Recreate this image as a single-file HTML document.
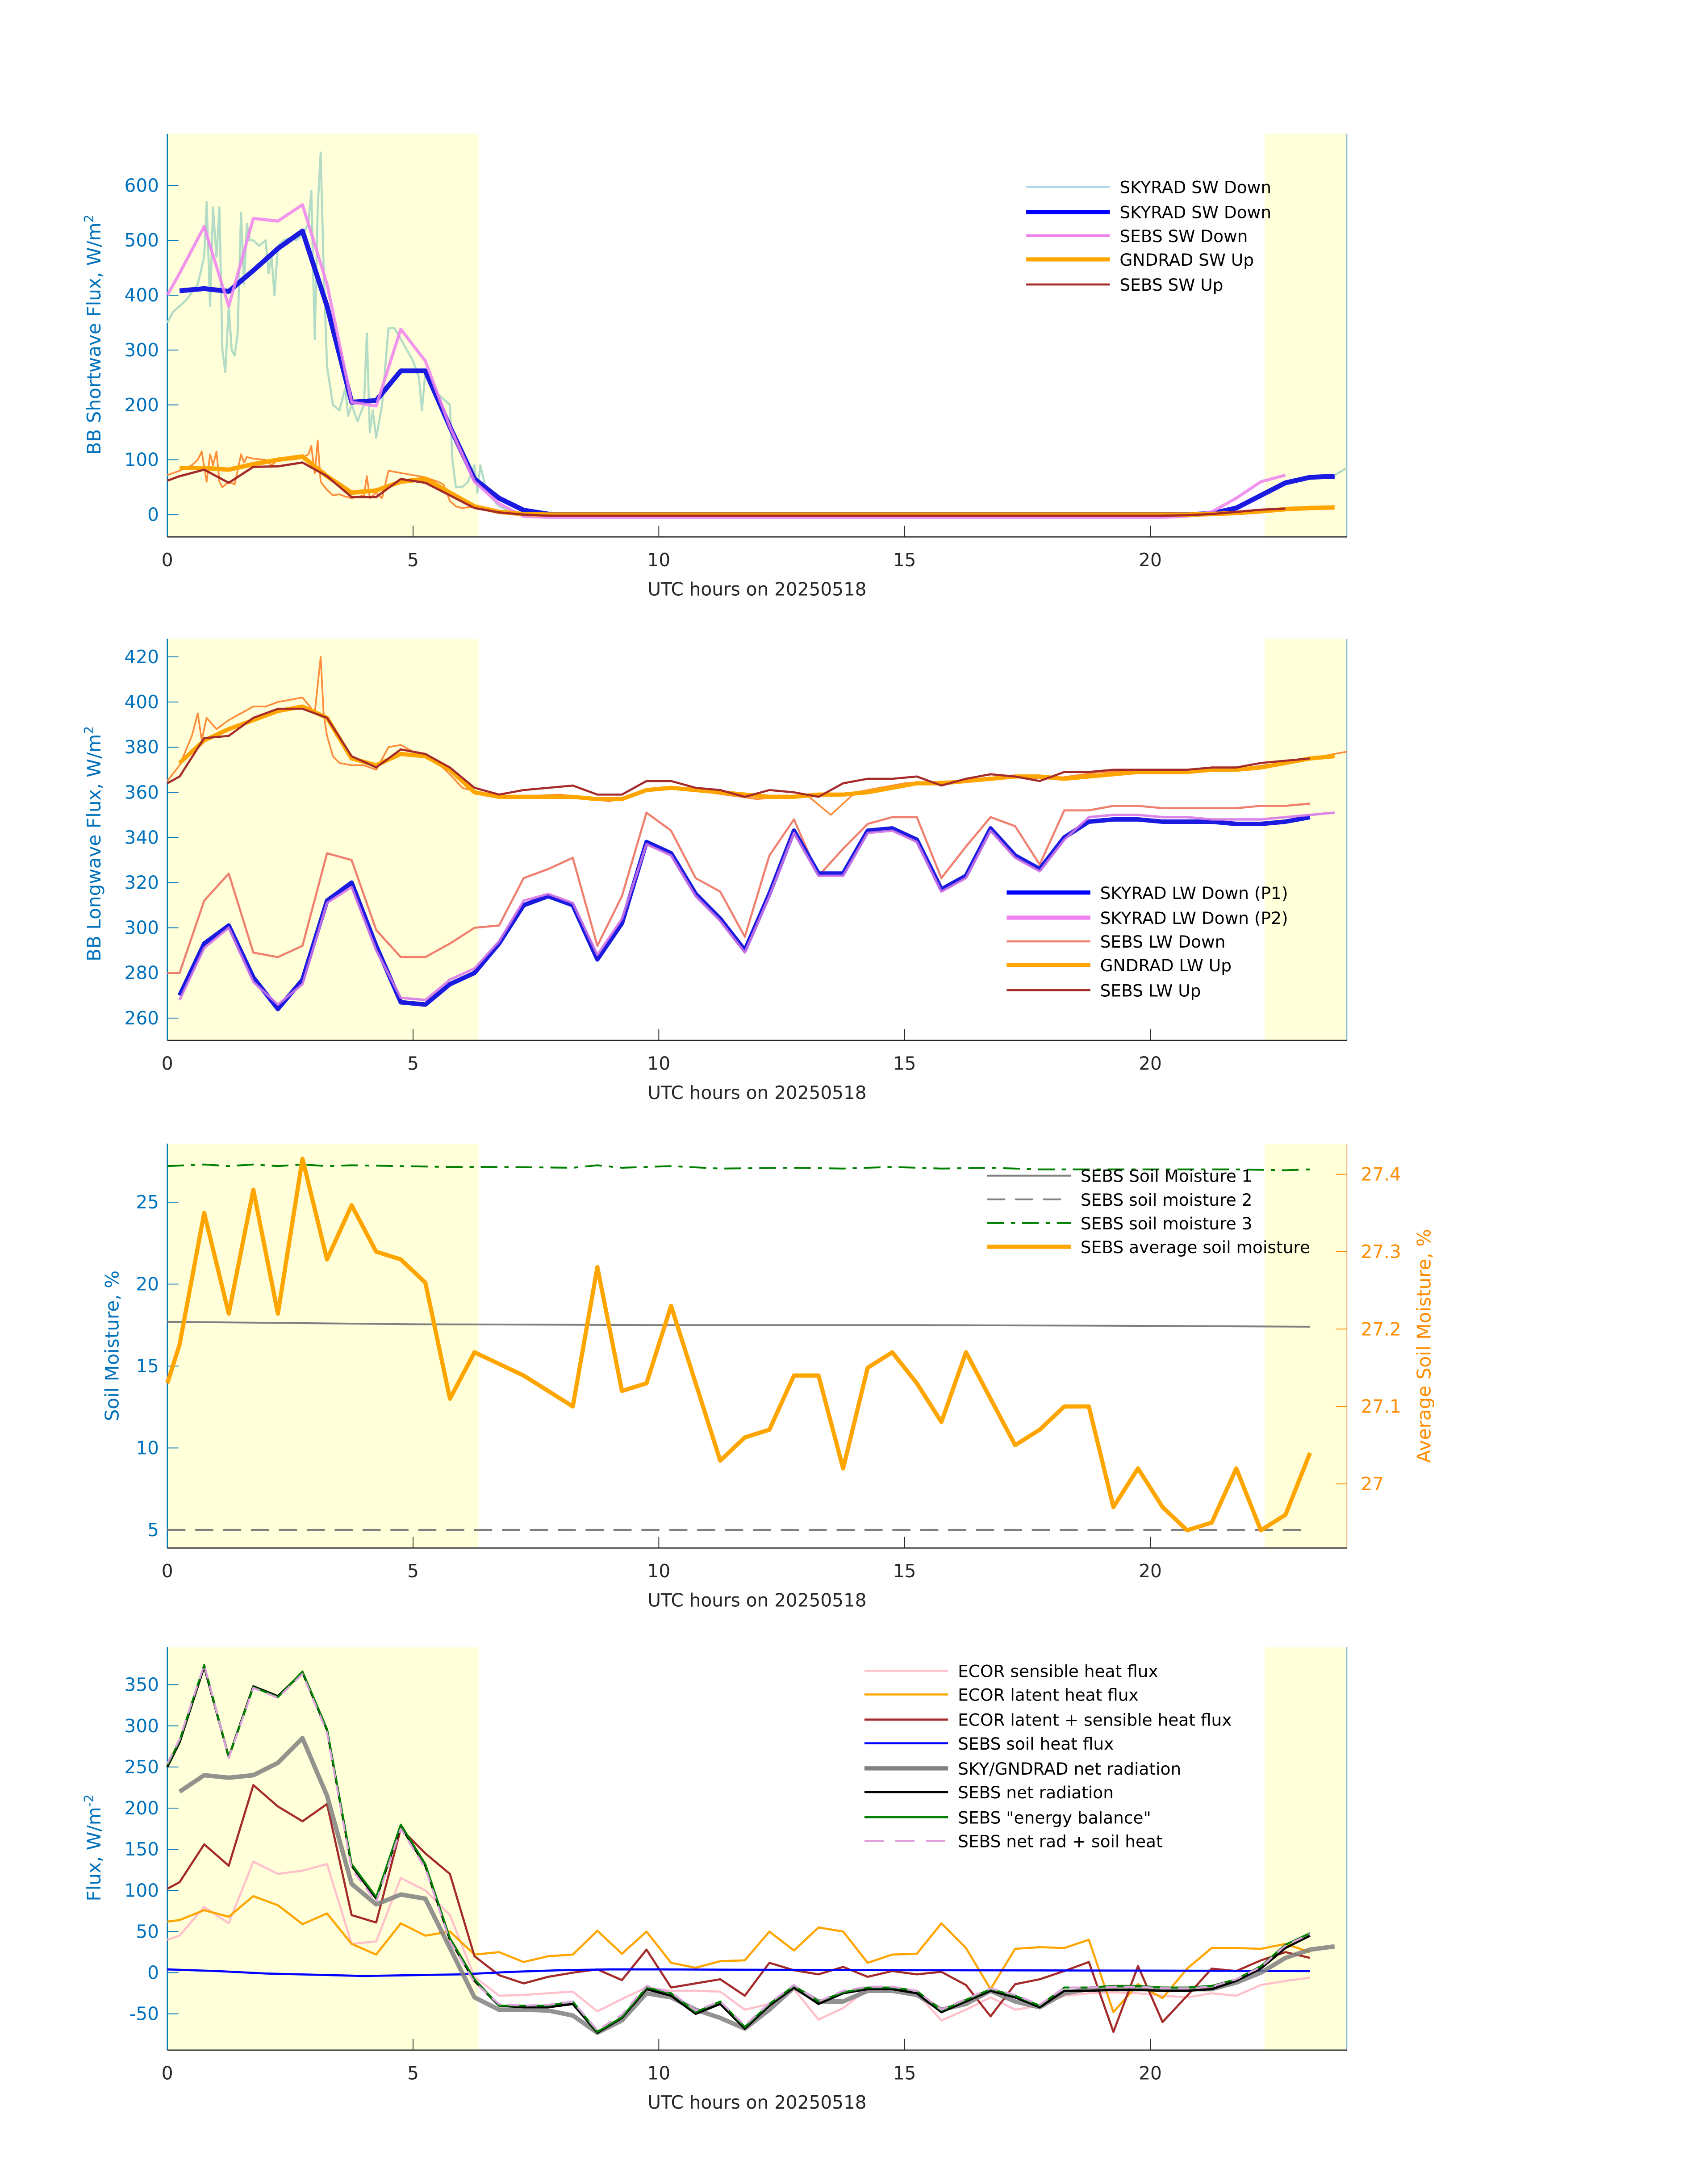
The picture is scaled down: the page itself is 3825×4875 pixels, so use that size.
<!DOCTYPE html>
<html><head><meta charset="utf-8"><style>
html,body{margin:0;padding:0;background:#fff}
svg{display:block}
text{font-family:"DejaVu Sans","Liberation Sans",sans-serif}
</style></head><body>
<svg id="chart" width="3825" height="4875" viewBox="0 0 1225 1561" preserveAspectRatio="none" xmlns="http://www.w3.org/2000/svg"></svg>
<script>
// ---------- shared category arrays (hours) ----------
const hrs48=[0.25,0.75,1.25,1.75,2.25,2.75,3.25,3.75,4.25,4.75,5.25,5.75,6.25,6.75,7.25,7.75,8.25,8.75,9.25,9.75,10.25,10.75,11.25,11.75,12.25,12.75,13.25,13.75,14.25,14.75,15.25,15.75,16.25,16.75,17.25,17.75,18.25,18.75,19.25,19.75,20.25,20.75,21.25,21.75,22.25,22.75,23.25,23.75];
const hrs0=[0,0.25,0.75,1.25,1.75,2.25,2.75,3.25,3.75,4.25,4.75,5.25,5.75,6.25,6.75,7.25,7.75,8.25,8.75,9.25,9.75,10.25,10.75,11.25,11.75,12.25,12.75,13.25,13.75,14.25,14.75,15.25,15.75,16.25,16.75,17.25,17.75,18.25,18.75,19.25,19.75,20.25,20.75,21.25,21.75,22.25,22.75,23.25];
const xTicks=[0,5,10,15,20];
// ---------- panel 1: shortwave ----------
const swRawHrs=[0,0.12,0.25,0.37,0.5,0.62,0.75,0.8,0.87,0.93,1.0,1.06,1.12,1.18,1.25,1.31,1.37,1.43,1.5,1.56,1.62,1.68,1.75,1.87,2.0,2.06,2.12,2.18,2.25,2.37,2.5,2.62,2.75,2.87,2.93,3.0,3.06,3.12,3.18,3.25,3.37,3.5,3.62,3.68,3.75,3.87,4.0,4.06,4.12,4.18,4.25,4.37,4.5,4.62,4.75,5.0,5.12,5.18,5.25,5.5,5.75,5.8,5.87,6.0,6.12,6.25,6.31,6.37,6.5,6.75,7,7.5];
const swRawDown=[350,370,380,390,405,420,470,570,380,560,470,560,300,260,380,300,290,330,550,420,530,500,500,490,500,440,470,400,490,500,505,500,510,530,590,320,560,660,450,270,200,190,230,180,200,170,200,330,150,190,140,200,340,340,320,280,250,190,260,220,200,100,50,50,60,90,40,90,40,15,5,0];
const swTailHrs=[22.25,22.75,23.25,23.75,24];
const swTailDown=[35,60,70,72,85];
const swRawUpHrs=[0,0.25,0.5,0.62,0.7,0.8,0.87,0.93,1.0,1.06,1.12,1.25,1.37,1.5,1.56,1.62,1.75,2.0,2.12,2.25,2.5,2.75,2.87,2.93,3.0,3.06,3.12,3.25,3.37,3.5,3.62,3.75,4.0,4.06,4.12,4.25,4.37,4.5,4.62,4.75,5.0,5.25,5.5,5.62,5.75,5.87,6.0,6.25,6.5,6.75,7];
const swRawUp=[72,80,90,100,115,60,110,90,115,60,50,60,55,110,95,105,102,100,90,100,100,103,110,125,75,135,60,45,35,37,33,30,35,70,30,40,30,80,78,76,72,68,60,55,25,15,12,15,8,4,1];
const skySWDown=[408,412,407,445,485,517,380,205,208,262,262,160,65,30,8,1,0,0,0,0,0,0,0,0,0,0,0,0,0,0,0,0,0,0,0,0,0,0,0,0,0,0,2,12,35,58,68,70];
const sebsSWDown=[400,440,525,380,540,535,565,420,205,198,338,280,160,60,20,-3,-5,-5,-5,-5,-5,-5,-5,-5,-5,-5,-5,-5,-5,-5,-5,-5,-5,-5,-5,-5,-5,-5,-5,-5,-5,-5,-3,5,30,60,72];
const gndSWUp=[85,85,82,92,100,106,70,40,44,60,65,40,15,5,1,0,0,0,0,0,0,0,0,0,0,0,0,0,0,0,0,0,0,0,0,0,0,0,0,0,0,0,1,3,6,10,12,13];
const sebsSWUp=[62,70,82,58,87,88,95,70,32,32,65,58,35,12,4,0,-2,-2,-2,-2,-2,-2,-2,-2,-2,-2,-2,-2,-2,-2,-2,-2,-2,-2,-2,-2,-2,-2,-2,-2,-2,-2,-1,1,5,9,11];
const swTicks=[0,100,200,300,400,500,600];
// ---------- panel 2: longwave ----------
const skyLWP1=[270,293,301,278,264,277,312,320,292,267,266,275,280,293,310,314,310,286,302,338,333,315,304,290,315,343,324,324,343,344,339,317,323,344,332,326,340,347,348,348,347,347,347,346,346,347,349];
const skyLWP2=[268,291,300,276,266,275,311,318,290,269,268,277,282,294,312,315,311,288,304,337,332,314,303,289,314,342,323,323,342,343,338,316,322,343,331,325,339,349,350,350,349,349,348,348,348,349,350,351];
const sebsLWDown=[280,280,312,324,289,287,292,333,330,299,287,287,293,300,301,322,326,331,292,314,351,343,322,316,296,332,348,323,335,346,349,349,322,336,349,345,328,352,352,354,354,353,353,353,353,354,354,355];
const gndLWUp=[373,383,388,392,396,398,393,375,372,377,376,370,360,358,358,358,358,357,357,361,362,361,360,359,358,358,359,359,360,362,364,364,365,366,367,367,366,367,368,369,369,369,370,370,371,373,375,376];
const sebsLWUp=[364,367,384,385,393,397,397,393,376,371,379,377,371,362,359,361,362,363,359,359,365,365,362,361,358,361,360,358,364,366,366,367,363,366,368,367,365,369,369,370,370,370,370,371,371,373,374,375];
const lwRawHrs=[0,0.25,0.5,0.62,0.7,0.8,1.0,1.25,1.5,1.75,2.0,2.25,2.5,2.75,2.9,3.0,3.12,3.18,3.25,3.37,3.5,3.75,4.0,4.25,4.5,4.75,5.0,5.25,5.5,5.75,6.0,6.5,7,8,9,10,11,12,13,13.5,14,15,16,17,18,19,20,21,22,23,24];
const lwRawUp=[365,372,385,395,383,393,388,392,395,398,398,400,401,402,398,395,420,395,385,376,373,372,372,370,380,381,378,377,373,368,362,359,358,359,356,362,360,357,359,350,360,364,365,367,366,369,369,370,371,374,378];
const lwTicks=[260,280,300,320,340,360,380,400,420];
// ---------- panel 3: soil moisture ----------
const sm1Hrs=[0,5,10,15,20,23.25];
const sm1=[17.7,17.55,17.5,17.5,17.45,17.4];
const sm2Hrs=[0,23.25];
const sm2=[5,5];
const sm3Hrs=[0,0.75,1.25,1.75,2.25,2.75,3.25,3.75,4.75,5.75,6.75,8.25,8.75,9.25,10.25,11.25,12.75,13.75,14.75,15.75,16.75,17.75,18.75,19.75,20.75,21.75,22.75,23.25];
const sm3=[27.2,27.3,27.2,27.3,27.2,27.3,27.2,27.25,27.2,27.15,27.15,27.1,27.25,27.1,27.2,27.05,27.1,27.05,27.15,27.05,27.1,27.0,27.0,27.0,27.0,27.0,26.95,27.0];
const smAvg=[27.13,27.18,27.35,27.22,27.38,27.22,27.42,27.29,27.36,27.30,27.29,27.26,27.11,27.17,27.155,27.14,27.12,27.10,27.28,27.12,27.13,27.23,27.13,27.03,27.06,27.07,27.14,27.14,27.02,27.15,27.17,27.13,27.08,27.17,27.11,27.05,27.07,27.10,27.10,26.97,27.02,26.97,26.94,26.95,27.02,26.94,26.96,27.04];
const smTicks=[5,10,15,20,25];
const smRightTicks=[27,27.1,27.2,27.3,27.4];
const smRightLabels=["27","27.1","27.2","27.3","27.4"];
// ---------- panel 4: energy fluxes ----------
const ecorSens=[40,45,80,60,135,120,124,132,35,38,115,100,70,-5,-28,-27,-25,-23,-47,-32,-18,-22,-22,-23,-45,-38,-20,-57,-43,-20,-20,-25,-58,-45,-30,-45,-40,-28,-25,-24,-25,-28,-30,-25,-28,-15,-10,-6];
const ecorLat=[62,64,76,68,93,82,59,72,35,22,60,45,50,22,25,13,20,22,51,23,50,12,6,14,15,50,27,55,50,12,22,23,60,30,-20,29,31,30,40,-48,-14,-31,5,30,30,29,35,25];
const ecorSum=[102,110,156,130,228,202,184,205,70,61,175,145,120,20,-3,-13,-5,0,4,-9,28,-18,-13,-8,-28,12,3,-2,7,-5,2,-2,1,-15,-53,-14,-8,2,13,-72,8,-60,-28,5,2,15,25,18];
const soilHrs=[0,1,2,3,4,5,6,7,8,9,10,12,16,20,23.25];
const soilHeat=[4,2,-1,-2.5,-4,-3,-2,1,3,4,4,3.5,3,2.5,2];
const skyNet=[220,240,237,240,255,285,215,108,83,95,90,30,-30,-45,-45,-46,-52,-73,-58,-25,-30,-45,-55,-68,-45,-18,-35,-35,-22,-22,-27,-45,-38,-22,-35,-42,-25,-20,-20,-20,-20,-20,-20,-12,0,18,28,32];
const sebsNet=[250,280,372,262,348,336,365,295,130,90,178,130,40,-10,-40,-42,-42,-38,-73,-55,-20,-28,-50,-38,-68,-40,-18,-38,-25,-20,-20,-25,-48,-35,-22,-30,-42,-22,-22,-21,-21,-22,-22,-20,-10,5,30,45];
const sebsEB=[252,282,374,262,347,335,366,296,132,92,180,132,42,-8,-40,-40,-40,-35,-72,-54,-18,-25,-48,-35,-66,-38,-16,-35,-24,-18,-18,-22,-46,-33,-20,-28,-40,-18,-18,-16,-16,-18,-18,-16,-8,8,34,48];
const sebsNetSoil=[254,284,374,261,346,334,363,292,126,86,175,127,38,-12,-38,-40,-39,-35,-70,-51,-16,-24,-46,-35,-64,-37,-15,-35,-22,-17,-17,-22,-45,-32,-19,-27,-39,-18,-18,-17,-17,-19,-19,-17,-8,7,33,47];
const fxTicks=[-50,0,50,100,150,200,250,300,350];

// ---------- helpers ----------
const svg=document.getElementById('chart');
const NS='http://www.w3.org/2000/svg';
function mk(tag,attrs,parent){const e=document.createElementNS(NS,tag);for(const k in attrs)e.setAttribute(k,attrs[k]);(parent||svg).appendChild(e);return e;}
const X0=120,X1=966;
function xs(h){return X0+h*(X1-X0)/24;}
function lin(v0,p0,v1,p1){return v=>p0+(v-v0)*(p1-p0)/(v1-v0);}
function line(hrs,vals,ys,style,name){
  const n=Math.min(hrs.length,vals.length);let d='';
  for(let i=0;i<n;i++)d+=(i?'L':'M')+xs(hrs[i]).toFixed(2)+','+ys(vals[i]).toFixed(2);
  const p=mk('path',Object.assign({d:d,fill:'none','stroke-linejoin':'round'},style));
  
  
  return p;
}
function panel(top,bot,ys,ticks,labels,ylabel,name,rightAxis){
  const g=mk('g',{});
  
  
  const r1=mk('rect',{x:X0,y:top,width:xs(6.33)-X0,height:bot-top,fill:'#ffffd9'},g);
  
  
  const r2=mk('rect',{x:xs(22.33),y:top,width:X1-xs(22.33),height:bot-top,fill:'#ffffd9'},g);
  
  
  mk('line',{x1:X0,y1:top,x2:X0,y2:bot,stroke:'#0072bd','stroke-width':0.8},g);
  mk('line',{x1:X1,y1:top,x2:X1,y2:bot,stroke:rightAxis?'#d95319':'#0072bd','stroke-width':0.6,'stroke-opacity':rightAxis?0.5:0.7},g);
  mk('line',{x1:X0,y1:bot,x2:X1,y2:bot,stroke:'#262626','stroke-width':0.8},g);
  ticks.forEach((v,i)=>{const y=ys(v);
    mk('line',{x1:X0,y1:y,x2:X0+8,y2:y,stroke:'#0072bd','stroke-width':0.6},g);
    const t=mk('text',{x:X0-6,y:y+4.5,'text-anchor':'end','font-size':13,fill:'#0072bd'},g);
    t.textContent=labels?labels[i]:String(v);
    
    
  });
  xTicks.forEach(h=>{const x=xs(h);
    if(h>0)mk('line',{x1:x,y1:bot,x2:x,y2:bot-8,stroke:'#262626','stroke-width':0.6},g);
    const t=mk('text',{x:x,y:bot+21,'text-anchor':'middle','font-size':13,fill:'#262626'},g);
    t.textContent=String(h);
    
    
  });
  const xl=mk('text',{x:543,y:bot+42,'text-anchor':'middle','font-size':13,fill:'#262626'},g);
  xl.textContent='UTC hours on 20250518';
  
  
  return g;
}
function ylab(x,y,html,color,name){
  const t=mk('text',{x:0,y:0,transform:'translate('+x+','+y+') rotate(-90)','text-anchor':'middle','font-size':13.5,fill:color});
  t.innerHTML=html;
  
  
}
function legend(x,rows,entries){
  entries.forEach((e,i)=>{
    const y=rows[i];
    const st=Object.assign({x1:x,y1:y,x2:x+60,y2:y},e.s);
    const l=mk('line',st);
    
    
    const t=mk('text',{x:x+67,y:y+4.5,'font-size':12,fill:'#000'});
    t.textContent=e.t;
    
    
  });
}

// ---------- panel 1 ----------
const y1=lin(0,369,600,133);
panel(96,385,y1,swTicks,null,'','shortwave-panel');
ylab(72,240,'BB Shortwave Flux, W/m<tspan dy="-5" font-size="9">2</tspan>','#0072bd','shortwave-y-axis-title');
line(swRawHrs,swRawDown,y1,{stroke:'#b2dcc6','stroke-width':1.5},'skyrad-sw-down-raw');
line(swTailHrs,swTailDown,y1,{stroke:'#b2dcc6','stroke-width':1.5},'skyrad-sw-down-raw-tail');
line(swRawUpHrs,swRawUp,y1,{stroke:'#ff8c3a','stroke-width':1.2},'gndrad-sw-up-raw');
line(hrs48,skySWDown,y1,{stroke:'#1a1ae0','stroke-width':3.5},'skyrad-sw-down');
line(hrs0,sebsSWDown,y1,{stroke:'#ee82ee','stroke-width':2.2,'stroke-opacity':0.85},'sebs-sw-down');
line(hrs48,gndSWUp,y1,{stroke:'#ffa500','stroke-width':3.2},'gndrad-sw-up');
line(hrs0,sebsSWUp,y1,{stroke:'#a52a2a','stroke-width':1.6},'sebs-sw-up');
legend(736,[134,152,169,186,204],[
 {t:'SKYRAD SW Down',s:{stroke:'#add8e6','stroke-width':1.5}},
 {t:'SKYRAD SW Down',s:{stroke:'#0000ff','stroke-width':3}},
 {t:'SEBS SW Down',s:{stroke:'#ee82ee','stroke-width':2}},
 {t:'GNDRAD SW Up',s:{stroke:'#ffa500','stroke-width':3}},
 {t:'SEBS SW Up',s:{stroke:'#a52a2a','stroke-width':1.5}}]);

// ---------- panel 2 ----------
const y2=lin(260,730,420,471);
panel(458,746,y2,lwTicks,null,'','longwave-panel');
ylab(72,605,'BB Longwave Flux, W/m<tspan dy="-5" font-size="9">2</tspan>','#0072bd','longwave-y-axis-title');
line(hrs0,sebsLWDown,y2,{stroke:'#f08070','stroke-width':1.5},'sebs-lw-down');
line(lwRawHrs,lwRawUp,y2,{stroke:'#ff8c3a','stroke-width':1.2},'gndrad-lw-up-raw');
line(hrs48,gndLWUp,y2,{stroke:'#ffa500','stroke-width':3},'gndrad-lw-up');
line(hrs0,sebsLWUp,y2,{stroke:'#a52a2a','stroke-width':1.5},'sebs-lw-up');
line(hrs48,skyLWP2,y2,{stroke:'#c8a0e0','stroke-width':1.5},'skyrad-lw-down-p2-raw');
line(hrs48,skyLWP1,y2,{stroke:'#1a1ae0','stroke-width':3.2},'skyrad-lw-down-p1');
line(hrs48,skyLWP2,y2,{stroke:'#e080e8','stroke-width':1.8,'stroke-opacity':0.8},'skyrad-lw-down-p2');
legend(722,[640,658,675,692,710],[
 {t:'SKYRAD LW Down (P1)',s:{stroke:'#0000ff','stroke-width':3}},
 {t:'SKYRAD LW Down (P2)',s:{stroke:'#ee82ee','stroke-width':3}},
 {t:'SEBS LW Down',s:{stroke:'#f08070','stroke-width':1.5}},
 {t:'GNDRAD LW Up',s:{stroke:'#ffa500','stroke-width':3}},
 {t:'SEBS LW Up',s:{stroke:'#a52a2a','stroke-width':1.5}}]);

// ---------- panel 3 ----------
const y3=lin(5,1097,25,862);
const y3r=lin(27.0,1064,27.4,842);
panel(820,1110,y3,smTicks,null,'','soil-moisture-panel',true);
ylab(85,965,'Soil Moisture, %','#0072bd','soil-moisture-y-axis-title');
ylab(1026,965,'Average Soil Moisture, %','#ff8c00','avg-soil-moisture-y-axis-title');
smRightTicks.forEach((v,i)=>{const y=y3r(v);
  mk('line',{x1:X1-8,y1:y,x2:X1,y2:y,stroke:'#ff8c00','stroke-width':0.6});
  const t=mk('text',{x:X1+10,y:y+4.5,'font-size':13,fill:'#ff8c00'});
  t.textContent=smRightLabels[i];
  
  
});
line(sm1Hrs,sm1,y3,{stroke:'#808080','stroke-width':1.3},'sebs-soil-moisture-1');
line(sm2Hrs,sm2,y3,{stroke:'#808080','stroke-width':1.3,'stroke-dasharray':'13,7'},'sebs-soil-moisture-2');
line(sm3Hrs,sm3.map(v=>v),y3,{stroke:'#008000','stroke-width':1.3,'stroke-dasharray':'12,5,3,5'},'sebs-soil-moisture-3');
line(hrs0,smAvg,y3r,{stroke:'#ffa500','stroke-width':3},'sebs-average-soil-moisture');
legend(708,[843,860,877,894],[
 {t:'SEBS Soil Moisture 1',s:{stroke:'#808080','stroke-width':1.3}},
 {t:'SEBS soil moisture 2',s:{stroke:'#808080','stroke-width':1.3,'stroke-dasharray':'13,7'}},
 {t:'SEBS soil moisture 3',s:{stroke:'#008000','stroke-width':1.3,'stroke-dasharray':'12,5,3,5'}},
 {t:'SEBS average soil moisture',s:{stroke:'#ffa500','stroke-width':3}}]);

// ---------- panel 4 ----------
const y4=lin(0,1414.5,350,1208);
panel(1181,1470,y4,fxTicks,null,'','energy-flux-panel');
ylab(72,1325,'Flux, W/m<tspan dy="-5" font-size="9">-2</tspan>','#0072bd','flux-y-axis-title');
line(hrs0,ecorSens,y4,{stroke:'#ffc0cb','stroke-width':1.5},'ecor-sensible-heat-flux');
line(hrs0,ecorLat,y4,{stroke:'#ffa500','stroke-width':1.5},'ecor-latent-heat-flux');
line(hrs0,ecorSum,y4,{stroke:'#a52a2a','stroke-width':1.5},'ecor-latent-plus-sensible');
line(soilHrs,soilHeat,y4,{stroke:'#0000ff','stroke-width':1.5},'sebs-soil-heat-flux');
line(hrs48,skyNet,y4,{stroke:'#808080','stroke-width':3.2,'stroke-opacity':0.85},'skygndrad-net-radiation');
line(hrs0,sebsNet,y4,{stroke:'#000','stroke-width':1.6},'sebs-net-radiation');
line(hrs0,sebsEB,y4,{stroke:'#008000','stroke-width':1.4},'sebs-energy-balance');
line(hrs0,sebsNetSoil,y4,{stroke:'#dda0dd','stroke-width':1.4,'stroke-dasharray':'8,5'},'sebs-net-rad-plus-soil-heat');
legend(620,[1198,1215,1233,1250,1268,1285,1303,1320],[
 {t:'ECOR sensible heat flux',s:{stroke:'#ffc0cb','stroke-width':1.5}},
 {t:'ECOR latent heat flux',s:{stroke:'#ffa500','stroke-width':1.5}},
 {t:'ECOR latent + sensible heat flux',s:{stroke:'#a52a2a','stroke-width':1.5}},
 {t:'SEBS soil heat flux',s:{stroke:'#0000ff','stroke-width':1.5}},
 {t:'SKY/GNDRAD net radiation',s:{stroke:'#808080','stroke-width':3}},
 {t:'SEBS net radiation',s:{stroke:'#000','stroke-width':1.5}},
 {t:'SEBS "energy balance"',s:{stroke:'#008000','stroke-width':1.5}},
 {t:'SEBS net rad + soil heat',s:{stroke:'#dda0dd','stroke-width':1.5,'stroke-dasharray':'14,8'}}]);
</script>
</body></html>
